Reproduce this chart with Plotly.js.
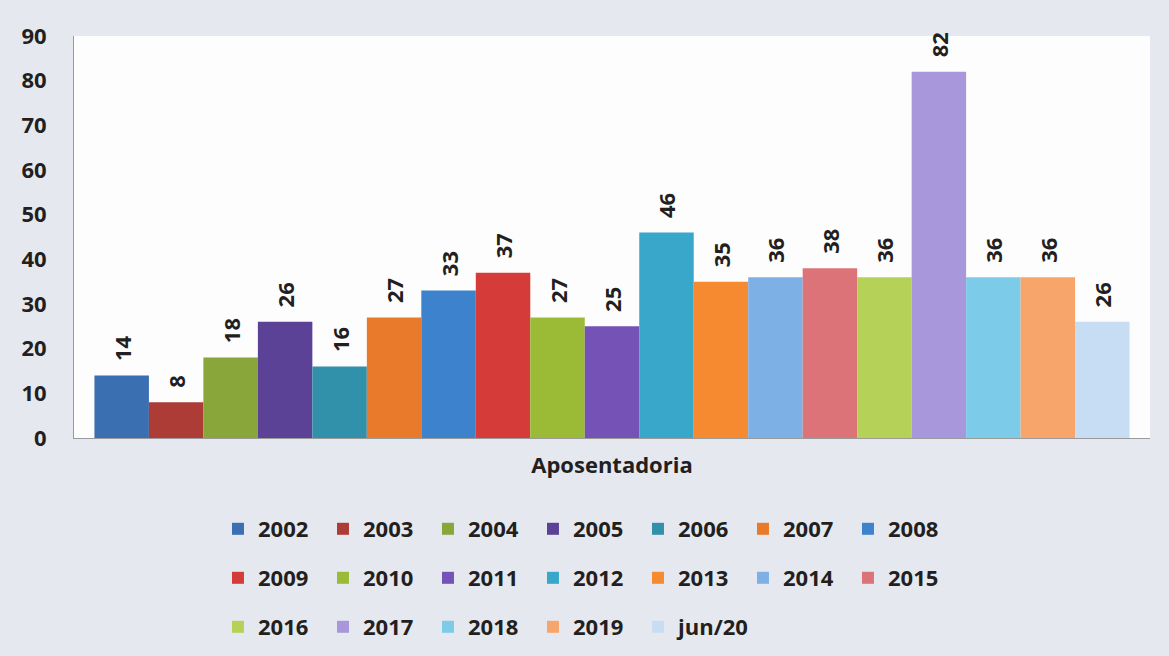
<!DOCTYPE html>
<html>
<head>
<meta charset="utf-8">
<script src="https://cdn.plot.ly/plotly-3.0.1.min.js"></script>
<style>html,body{margin:0;padding:0;background:#e6e8ef;}#chart{width:1169px;height:656px;}</style>
</head>
<body>
<div id="chart"></div>
<script>
const category = ['Aposentadoria'];
const seriesNames = ['2002','2003','2004','2005','2006','2007','2008','2009','2010','2011','2012','2013','2014','2015','2016','2017','2018','2019','jun/20'];
const seriesValues = [14, 8, 18, 26, 16, 27, 33, 37, 27, 25, 46, 35, 36, 38, 36, 82, 36, 36, 26];
const seriesColors = ['#3a6fb2','#ad3b36','#88a63a','#5b4296','#3190aa','#e97a2b','#3d82cc','#d53b38','#9bbb36','#7552b5','#38a7c9','#f58a30','#7db1e6','#dc7379','#b6d157','#a897da','#7ccbe8','#f8a56c','#c7ddf4'];
const yTicks = [0,10,20,30,40,50,60,70,80,90];

const FONT = 'Open Sans, DejaVu Sans, sans-serif';
function legendFor(i) {
  if (i < 7) return 'legend';
  if (i < 14) return 'legend2';
  if (i < 18) return 'legend3';
  return 'legend4';
}
const traces = seriesNames.map((name, i) => ({
  type: 'bar',
  name: name,
  x: category,
  y: [seriesValues[i]],
  text: ['\u00a0\u00a0' + seriesValues[i]],
  textposition: 'outside',
  textangle: -90,
  cliponaxis: false,
  textfont: {family: FONT, size: 22, weight: 'bold', color: '#231f20'},
  marker: {color: seriesColors[i], line: {width: 0}},
  legend: legendFor(i),
  hoverinfo: 'name+y'
}));

const legendBase = {
  orientation: 'h', xanchor: 'left', yanchor: 'middle', x: 0.1338,
  yref: 'container',
  bgcolor: 'rgba(0,0,0,0)', borderwidth: 0,
  entrywidth: 60, entrywidthmode: 'pixels', itemwidth: 30,
  font: {family: FONT, size: 22, weight: 'bold', color: '#231f20'},
  traceorder: 'normal'
};

const layout = {
  width: 1169, height: 656,
  margin: {l: 74, r: 19, t: 36, b: 218},
  paper_bgcolor: '#e6e8ef',
  plot_bgcolor: '#fdfdfd',
  barmode: 'group',
  bargap: 0.038,
  bargroupgap: 0,
  font: {family: FONT, color: '#231f20'},
  showlegend: true,
  legend: Object.assign({}, legendBase, {y: 0.1936}),
  legend2: Object.assign({}, legendBase, {y: 0.1189}),
  legend3: Object.assign({}, legendBase, {y: 0.0442}),
  legend4: Object.assign({}, legendBase, {y: 0.0442, x: 0.5242, entrywidth: 90}),
  xaxis: {
    type: 'category',
    showline: true, linecolor: '#9a9a9a', linewidth: 1,
    showgrid: false, ticks: '', ticklabelstandoff: 8,
    tickfont: {family: FONT, size: 22, weight: 'bold', color: '#231f20'},
    fixedrange: true
  },
  yaxis: {
    range: [0, 90],
    tickvals: yTicks,
    showline: true, linecolor: '#9a9a9a', linewidth: 1,
    showgrid: false, zeroline: false, ticks: '', ticklabelstandoff: 22,
    tickfont: {family: FONT, size: 22, weight: 'bold', color: '#231f20'},
    fixedrange: true
  }
};

Plotly.newPlot('chart', traces, layout, {displayModeBar: false, staticPlot: true});
</script>
</body>
</html>
